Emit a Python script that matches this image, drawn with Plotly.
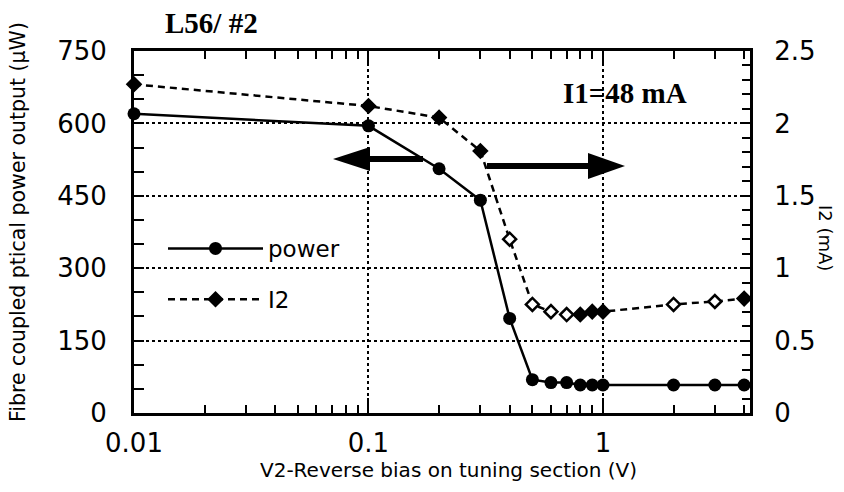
import plotly.graph_objects as go

# ---- data ----
v2 = [0.01, 0.1, 0.2, 0.3, 0.4, 0.5, 0.6, 0.7, 0.8, 0.9, 1.0, 2.0, 3.0, 4.0]
power = [620, 595, 506, 441, 196, 69, 63, 63, 58, 58, 58, 58, 58, 58]
i2 = [2.27, 2.12, 2.04, 1.81, 1.20, 0.75, 0.70, 0.68, 0.68, 0.70, 0.70, 0.75, 0.77, 0.79]
x_tickvals = [0.01, 0.1, 1]
x_ticktext = ["0.01", "0.1", "1"]
y_tickvals = [0, 150, 300, 450, 600, 750]
y2_tickvals = [0, 0.5, 1, 1.5, 2, 2.5]

# ---- style ----
i2_fill = ["black", "black", "black", "black", "white", "white", "white",
           "white", "black", "black", "black", "white", "white", "black"]

W, H = 844, 492
L, R, T, B = 134, 750, 51, 413


def px(x):
    return (x - L) / (R - L)


def py(y):
    return (B - y) / (B - T)


fig = go.Figure()
fig.add_trace(go.Scatter(
    x=v2, y=power, name="power", mode="lines+markers",
    line=dict(color="black", width=2.5),
    marker=dict(symbol="circle", size=13, color="black"),
    cliponaxis=False, legendgroup="a",
))
fig.add_trace(go.Scatter(
    x=v2, y=i2, name="I2", mode="lines+markers", yaxis="y2",
    line=dict(color="black", width=2.5, dash="7px,5px"),
    marker=dict(symbol="diamond", size=10, color=i2_fill,
                line=dict(color="black", width=2.5)),
    cliponaxis=False, legendgroup="b",
))

font_sans = "DejaVu Sans"
font_serif = "Liberation Serif"

fig.update_layout(
    width=W, height=H,
    margin=dict(l=L, r=W - R, t=T, b=H - B, autoexpand=False),
    paper_bgcolor="white", plot_bgcolor="white",
    font=dict(family=font_sans, color="black", size=26),
    showlegend=True,
    legend=dict(x=px(163), y=py(227), xanchor="left", yanchor="top",
                itemwidth=95, tracegroupgap=18, traceorder="grouped",
                font=dict(family=font_sans, size=23), bgcolor="rgba(0,0,0,0)"),
    xaxis=dict(type="log", range=[-2, 0.627], tickvals=x_tickvals,
               ticktext=x_ticktext, ticks="inside", ticklen=15, tickwidth=2,
               tickcolor="black", showline=True, linewidth=3, linecolor="black",
               mirror="ticks", showgrid=True, gridcolor="black", gridwidth=2,
               griddash="dot", zeroline=False, ticklabelstandoff=5,
               minor=dict(ticks="inside", ticklen=8, tickwidth=2,
                          tickcolor="black", dtick="D1", showgrid=False)),
    yaxis=dict(range=[0, 750], tickvals=y_tickvals, ticks="inside",
               ticklen=10, tickwidth=2, tickcolor="black", showline=True,
               linewidth=3, linecolor="black", showgrid=True,
               gridcolor="black", gridwidth=2, griddash="dot",
               zeroline=False, ticklabelstandoff=19,
               minor=dict(ticks="inside", ticklen=10, tickwidth=2,
                          tickcolor="black", dtick=50, showgrid=False)),
    yaxis2=dict(range=[0, 2.5], tickvals=y2_tickvals, overlaying="y",
                side="right", ticks="inside", ticklen=10, tickwidth=2,
                tickcolor="black", showline=True, linewidth=3,
                linecolor="black", showgrid=False, zeroline=False,
                ticklabelstandoff=16,
                minor=dict(ticks="inside", ticklen=8, tickwidth=2,
                           tickcolor="black", dtick=0.1, showgrid=False)),
)


def note(text, x, y, size, family, angle=0):
    return dict(text=text, x=px(x), y=py(y), xref="paper", yref="paper",
                xanchor="center", yanchor="middle", showarrow=False,
                textangle=angle, font=dict(family=family, size=size))


annotations = [
    note("<b>L56/ #2</b>", 211, 23, 29, font_serif),
    note("<b>I1=48 mA</b>", 625, 93, 29, font_serif),
    note("Fibre coupled ptical power output (μW)", 18, 222, 20.5, font_sans, -90),
    note("I2 (mA)", 826, 238, 18, font_sans, 90),
    note("V2-Reverse bias on tuning section (V)", 448, 470, 20, font_sans),
]
fig.update_layout(annotations=annotations)


def rect(x0, x1, y0, y1):
    return dict(type="rect", xref="paper", yref="paper", x0=px(x0),
                x1=px(x1), y0=py(y0), y1=py(y1), fillcolor="black",
                line=dict(width=0), layer="above")


def tri(tipx, basex, cy, half):
    path = (f"M {px(tipx)} {py(cy)} L {px(basex)} {py(cy - half)} "
            f"L {px(basex)} {py(cy + half)} Z")
    return dict(type="path", xref="paper", yref="paper", path=path,
                fillcolor="black", line=dict(width=0), layer="above")


shapes = [
    rect(368, 423, 156, 162), tri(333, 370, 159, 12),
    rect(487, 590, 163, 169), tri(625, 588, 166, 13),
]
fig.update_layout(shapes=shapes)

fig.write_html("out.html", config={"displayModeBar": False},
               post_script="document.body.style.margin='0';")
